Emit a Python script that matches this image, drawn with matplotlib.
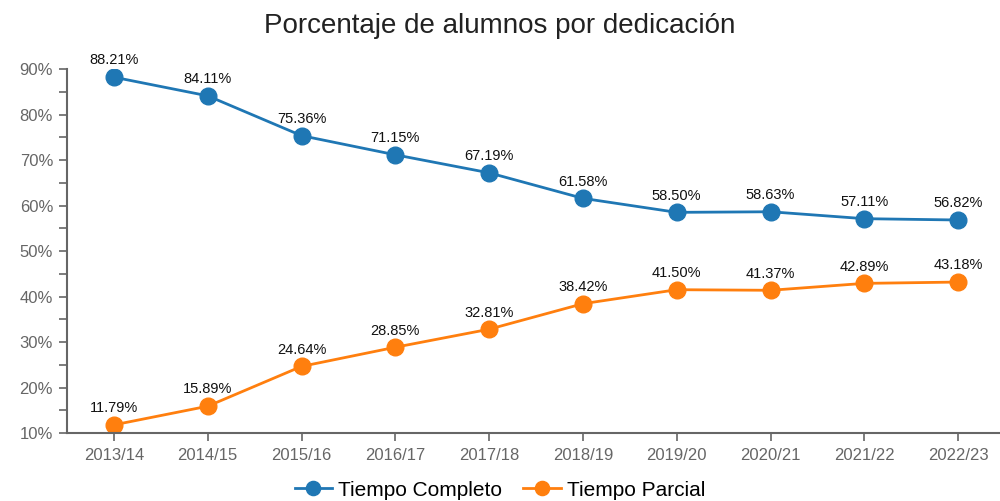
import matplotlib.pyplot as plt
from matplotlib.ticker import MultipleLocator, FuncFormatter

plt.rcParams['font.family'] = ['Liberation Sans', 'DejaVu Sans']

# Data
cursos = ["2013/14", "2014/15", "2015/16", "2016/17", "2017/18",
          "2018/19", "2019/20", "2020/21", "2021/22", "2022/23"]
completo = [88.21, 84.11, 75.36, 71.15, 67.19, 61.58, 58.50, 58.63, 57.11, 56.82]
parcial = [11.79, 15.89, 24.64, 28.85, 32.81, 38.42, 41.50, 41.37, 42.89, 43.18]

azul = "#1f77b4"
naranja = "#ff7f0e"
gris = "#666666"

fig = plt.figure(figsize=(10, 5.01), dpi=100)
ax = fig.add_axes([0.067, 0.1357, 0.938, 0.7265])

x = list(range(len(cursos)))
ax.plot(x, completo, color=azul, lw=2, marker="o", ms=12, label="Tiempo Completo")
ax.plot(x, parcial, color=naranja, lw=2, marker="o", ms=12, label="Tiempo Parcial")

for serie in (completo, parcial):
    for xi, v in zip(x, serie):
        ax.annotate(f"{v:.2f}%", (xi, v), xytext=(0, 7), textcoords="offset points",
                    ha="center", va="bottom", fontsize=10.5, color="#111111")

ax.set_xlim(-0.5, len(cursos) - 0.5)
ax.set_ylim(10, 90)
ax.set_xticks(x)
ax.set_xticklabels(cursos)
ax.yaxis.set_major_locator(MultipleLocator(10))
ax.yaxis.set_minor_locator(MultipleLocator(5))
ax.yaxis.set_major_formatter(FuncFormatter(lambda v, p: f"{v:.0f}%"))

for s in ["top", "right"]:
    ax.spines[s].set_visible(False)
for s in ["left", "bottom"]:
    ax.spines[s].set_color(gris)
    ax.spines[s].set_linewidth(1.5)
ax.tick_params(axis="both", colors=gris, labelcolor="#666666", labelsize=12,
               length=6, width=1.2)
ax.tick_params(axis="y", which="minor", colors=gris, length=6, width=1.2)
ax.tick_params(axis="y", pad=4)
ax.tick_params(axis="x", pad=5)

fig.suptitle("Porcentaje de alumnos por dedicación", y=0.975, fontsize=20, color="#222222")

fig.legend(loc="lower center", bbox_to_anchor=(0.5, -0.035), ncol=2, frameon=False,
           fontsize=15, handlelength=1.8, handletextpad=0.3, columnspacing=1.0,
           markerscale=0.85)

fig.savefig("out.png", dpi=100)
